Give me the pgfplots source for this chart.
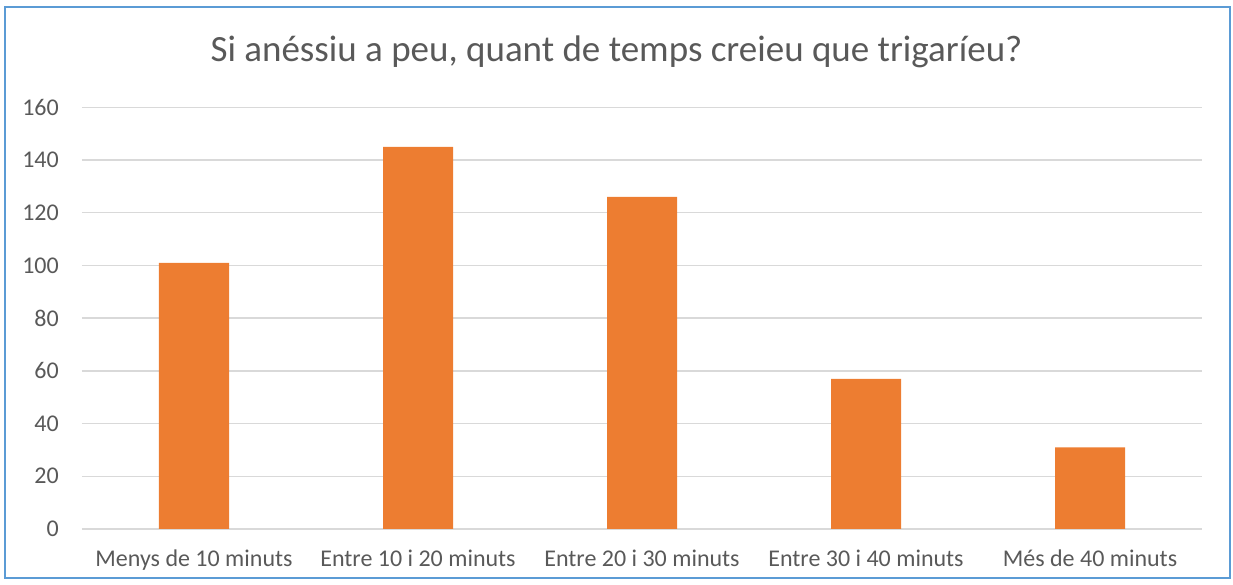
\documentclass[border=0pt]{standalone}
\usepackage{pgfplots}
\pgfplotsset{compat=1.18}
\usepackage{fontspec}
\setmainfont{Carlito}
\definecolor{barc}{HTML}{ED7D31}
\definecolor{txt}{HTML}{595959}
\definecolor{gridc}{HTML}{D9D9D9}
\definecolor{frame}{HTML}{5B9BD5}
\begin{document}
\begin{tikzpicture}[x=1bp,y=1bp]
\useasboundingbox (-82,-56) rectangle (1151,529);
\draw[frame, line width=1.5bp] (-77,-49) rectangle (1148,522);
\node[txt, font=\fontsize{37bp}{44bp}\selectfont] at (534.5,477) {Si anéssiu a peu, quant de temps creieu que trigaríeu?};
\begin{axis}[
  at={(0,0)}, anchor=south west,
  scale only axis, width=1120bp, height=421.7bp,
  ybar, bar width=70bp,
  xmin=-0.5, xmax=4.5, ymin=0, ymax=160,
  xtick=data,
  xticklabels={Menys de 10 minuts, Entre 10 i 20 minuts, Entre 20 i 30 minuts, Entre 30 i 40 minuts, Més de 40 minuts},
  ytick={0,20,...,160},
  ymajorgrids, grid style={gridc, line width=1.3bp},
  axis line style={draw=none},
  major tick length=0pt,
  /pgf/number format/assume math mode=true,
  tick label style={txt, font=\fontsize{24bp}{29bp}\selectfont, inner sep=0pt},
  xticklabel style={anchor=base, yshift=-37.7bp},
  yticklabel style={anchor=east, xshift=-23bp},
  clip=false,
]
\addplot[fill=barc, draw=none] coordinates {(0,101) (1,145) (2,126) (3,57) (4,31)};
\end{axis}
\end{tikzpicture}
\end{document}
